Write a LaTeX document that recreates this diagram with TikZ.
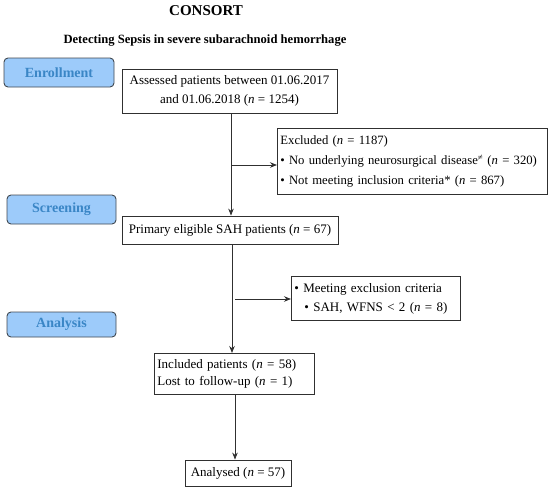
\documentclass[tikz,border=0pt]{standalone}
\usepackage{fontspec}
\setmainfont{Liberation Serif}
\usetikzlibrary{arrows.meta}
\definecolor{lblfill}{HTML}{9DCBFA}
\definecolor{lbltext}{HTML}{3A86C6}
\definecolor{lbldraw}{HTML}{404850}
\definecolor{linec}{HTML}{303030}
\tikzset{
  lbl/.style={draw=lbldraw, fill=lblfill, line width=0.9pt, rounded corners=4pt,
    minimum width=109pt, minimum height=29pt, inner sep=0pt,
    text=lbltext, font=\rmfamily\bfseries\fontsize{14}{16}\selectfont},
  flowbox/.style={draw=linec, line width=0.8pt, inner sep=0pt,
    font=\fontsize{13}{19}\selectfont},
  conn/.style={draw=linec, line width=0.8pt, -{Stealth[length=7pt,width=5.5pt]}},
  ttl/.style={inner sep=0pt, font=\rmfamily\bfseries\fontsize{15}{18}\selectfont},
  subttl/.style={inner sep=0pt, font=\rmfamily\bfseries\fontsize{12.6}{14}\selectfont}
}
\newcommand{\nn}{\textit{n}}
\begin{document}
\begin{tikzpicture}[x=1pt,y=-1pt]
\useasboundingbox (0,0) rectangle (550,491);
\node[ttl] (title) at (206,11) {CONSORT};
\node[subttl] (sub) at (205,41) {Detecting Sepsis in severe subarachnoid hemorrhage};

\node[lbl, minimum width=110pt] (enr) at (59,72.5) {Enrollment};
\node[lbl] (scr) at (61.5,209.5) {Screening};
\node[lbl, minimum height=25pt] (ana) at (61.5,324.5) {Analysis};

\node[flowbox, minimum width=215pt, minimum height=44pt, align=center] (ass) at (229.5,91)
  {Assessed patients between 01.06.2017\\and 01.06.2018 (\nn{} = 1254)};
\node[flowbox, anchor=north west, minimum width=270pt, minimum height=66pt,
  text width=264pt, inner xsep=3pt, align=left, font=\fontsize{12.7}{20}\selectfont] (exc) at (277,128)
  {Excluded (\nn{} = 1187)\\
   • No underlying neurosurgical disease\textsuperscript{≠} (\nn{}~=~320)\\
   • Not meeting inclusion criteria* (\nn{} = 867)};
\node[flowbox, minimum width=216pt, minimum height=28pt] (pri) at (230,230)
  {Primary eligible SAH patients (\nn{} = 67)};
\node[flowbox, anchor=north west, minimum width=169pt, minimum height=44pt,
  text width=163pt, inner xsep=3pt, align=left] (mee) at (291,276)
  {• Meeting exclusion criteria\\
   \hspace*{10pt}• SAH, WFNS < 2 (\nn{} = 8)};
\node[flowbox, anchor=north west, minimum width=160pt, minimum height=41pt,
  text width=154pt, inner xsep=3pt, align=left, font=\fontsize{13}{17.5}\selectfont] (inc) at (154,353)
  {Included patients (\nn{} = 58)\\Lost to follow-up (\nn{} = 1)};
\node[flowbox, minimum width=106pt, minimum height=26pt] (anl) at (238,473)
  {Analysed (\nn{} = 57)};

\coordinate (j1) at (231,165);
\coordinate (j2) at (235,299);
\draw[conn] (ass.south -| j1) -- (pri.north -| j1);
\draw[conn] (j1) -- (j1 -| exc.west);
\draw[conn] (pri.south -| 232,0) -- (inc.north -| 232,0);
\draw[conn] (j2) -- (j2 -| mee.west);
\draw[conn] (inc.south -| 235,0) -- (anl.north -| 235,0);
\end{tikzpicture}
\end{document}
